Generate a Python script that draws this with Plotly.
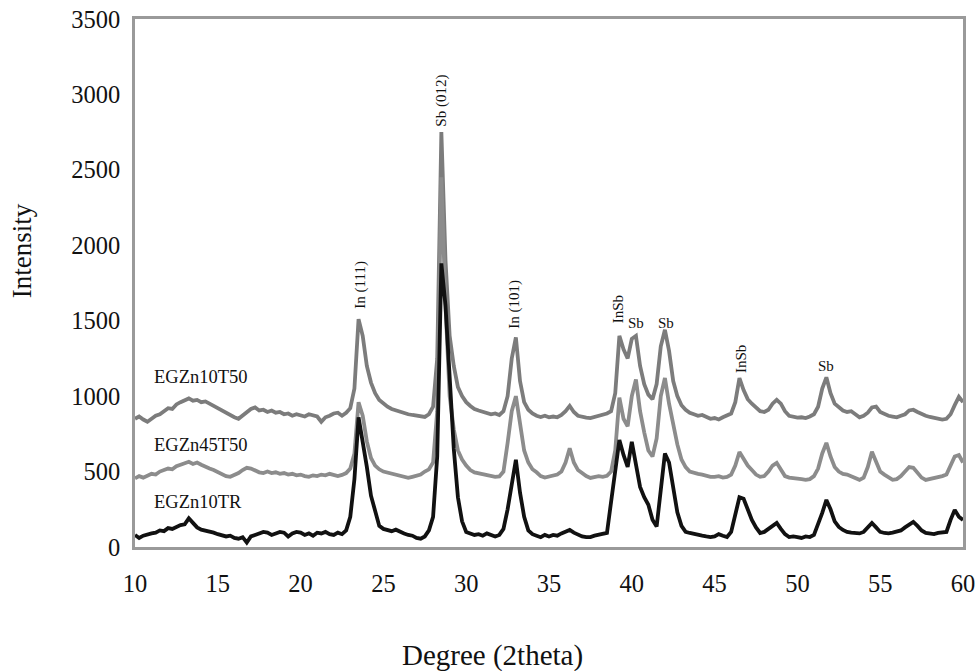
import numpy as np
import plotly.graph_objects as go

# 2-theta sampling grid (degrees)
two_theta = np.round(np.arange(10.0, 60.001, 0.25), 2)

# EGZn10T50 (top trace)
egzn10t50 = [
    850, 865, 845, 830, 850, 870, 880, 900, 920, 915, 945, 960, 975, 985, 970, 975, 960, 965, 950, 935,
    915, 900, 890, 875, 860, 850, 870, 895, 915, 925, 905, 910, 895, 905, 890, 895, 880, 885, 870, 880,
    875, 865, 880, 870, 865, 830, 860, 870, 885, 890, 870, 890, 920, 1050, 1510, 1400, 1200, 1090, 1020, 975,
    950, 930, 915, 905, 895, 890, 880, 875, 870, 868, 862, 880, 930, 1250, 2750, 1900, 1400, 1200, 1060, 1000,
    960, 935, 915, 905, 895, 890, 880, 885, 875, 900, 1000, 1250, 1390, 1100, 960, 910, 885, 870, 862, 870,
    860, 865, 860, 875, 900, 935, 895, 870, 862, 858, 855, 862, 870, 880, 885, 900, 1020, 1400, 1310, 1250,
    1380, 1400, 1200, 1080, 1010, 980, 1080, 1330, 1440, 1300, 1100, 1000, 940, 910, 890, 880, 870, 875, 860, 850,
    855, 845, 860, 870, 885, 960, 1120, 1040, 980, 950, 925, 900, 895, 910, 950, 975, 950, 900, 870, 862,
    858, 860, 855, 865, 880, 930, 1050, 1125, 1020, 950, 925, 905, 895, 900, 880, 860, 870, 890, 925, 930,
    895, 880, 870, 865, 860, 870, 880, 905, 910, 895, 880, 870, 862, 858, 850, 845, 850, 880, 940, 995,
    960,
]

# EGZn45T50 (middle trace)
egzn45t50 = [
    455, 470, 460, 475, 485, 480, 500, 510, 520, 515, 535, 545, 555, 565, 550, 560, 545, 530, 520, 510,
    495, 480, 470, 465, 475, 490, 510, 525, 520, 505, 495, 490, 500, 490, 495, 485, 490, 480, 485, 475,
    480, 470, 465, 475, 470, 480, 475, 485, 480, 470, 478, 490, 520, 620, 960, 870, 700, 590, 540, 515,
    500, 492, 488, 480, 470, 462, 458, 465, 470, 480, 500, 515, 560, 900, 2450, 1600, 1000, 780, 640, 580,
    540, 510, 495, 490, 480, 475, 470, 465, 468, 500, 690, 900, 1000, 800, 640, 560, 515, 495, 470, 460,
    465, 470, 480, 500, 560, 655, 560, 510, 490, 470, 458, 462, 470, 465, 472, 500, 640, 990, 850, 800,
    1000, 1110, 900, 760, 640, 600, 720, 1000, 1120, 950, 800, 680, 580, 530, 500, 490, 485, 480, 470, 465,
    465, 470, 460, 465, 480, 540, 630, 580, 540, 510, 480, 465, 470, 500, 540, 558, 510, 470, 460, 458,
    455, 450, 445, 450, 470, 520, 620, 690, 600, 530, 500, 485, 480, 470, 455, 445, 460, 530, 631, 560,
    500, 480, 460, 445, 450, 470, 500, 530, 525, 490, 460, 445, 450, 460, 465, 470, 480, 540, 600, 610,
    560,
]

# EGZn10TR (bottom trace)
egzn10tr = [
    80, 60, 75, 85, 90, 95, 110, 105, 125, 120, 135, 145, 150, 190, 160, 130, 115, 110, 100, 95,
    85, 80, 70, 75, 60, 55, 65, 30, 70, 80, 90, 100, 95, 80, 90, 100, 95, 70, 90, 100,
    95, 80, 90, 75, 95, 90, 100, 85, 80, 95, 85, 110, 200, 450, 860, 700, 531, 340, 230, 140,
    120, 110, 105, 115, 100, 90, 80, 75, 60, 55, 70, 110, 200, 600, 1880, 1600, 1129, 650, 330, 170,
    100, 90, 80, 85, 75, 90, 80, 70, 80, 120, 250, 420, 578, 360, 200, 110, 85, 75, 65, 80,
    70, 80, 75, 90, 100, 113, 95, 80, 70, 65, 66, 75, 80, 85, 93, 300, 531, 710, 610, 531,
    697, 560, 398, 330, 280, 180, 135, 378, 620, 560, 398, 230, 140, 100, 93, 85, 80, 75, 70, 66,
    70, 85, 75, 66, 100, 226, 330, 320, 250, 180, 130, 93, 100, 120, 140, 160, 120, 85, 66, 70,
    66, 60, 70, 66, 80, 150, 226, 312, 250, 170, 133, 113, 100, 95, 93, 90, 100, 130, 159, 130,
    100, 93, 90, 95, 100, 110, 130, 150, 166, 140, 110, 93, 90, 85, 93, 95, 100, 180, 246, 200,
    179,
]

series_names = ["EGZn10T50", "EGZn45T50", "EGZn10TR"]
series_colors = ["#7c7c7c", "#8c8c8c", "#111111"]
label_y = [1129, 677, 299]

peak_labels = ["In (111)", "Sb (012)", "In (101)", "InSb", "Sb", "Sb", "InSb", "Sb"]
peak_x = [23.6, 28.5, 32.9, 39.15, 40.25, 42.05, 46.55, 51.75]
peak_y = [1740, 2961, 1607, 1574, 1487, 1487, 1248, 1202]
peak_rot = [-90, -90, -90, -90, 0, 0, -90, 0]

x_ticks = [10, 15, 20, 25, 30, 35, 40, 45, 50, 55, 60]
y_ticks = [0, 500, 1000, 1500, 2000, 2500, 3000, 3500]

FONT = "Liberation Serif, Times New Roman, serif"

fig = go.Figure()
for name, ys, col in zip(series_names, [egzn10t50, egzn45t50, egzn10tr], series_colors):
    fig.add_trace(go.Scatter(x=two_theta, y=ys, mode="lines", name=name,
                             line=dict(color=col, width=3.8), showlegend=False))

for name, ly in zip(series_names, label_y):
    fig.add_annotation(x=11.05, y=ly, text=name, showarrow=False, xanchor="left",
                       yanchor="middle", font=dict(family=FONT, size=18.5, color="#111"))

for t, px, py, rot in zip(peak_labels, peak_x, peak_y, peak_rot):
    fig.add_annotation(x=px, y=py, text=t, showarrow=False, textangle=rot,
                       xanchor="center", yanchor="middle",
                       font=dict(family=FONT, size=15, color="#111"))

# axis titles placed as annotations (offset like the original)
fig.add_annotation(xref="paper", x=0, xshift=-113, y=1960, text="Intensity",
                   showarrow=False, textangle=-90, xanchor="center", yanchor="middle",
                   font=dict(family=FONT, size=27, color="#111"))
fig.add_annotation(x=31.6, yref="paper", y=0, yshift=-108, text="Degree (2theta)",
                   showarrow=False, xanchor="center", yanchor="middle",
                   font=dict(family=FONT, size=29, color="#111"))

fig.update_layout(
    width=977, height=671,
    margin=dict(l=135, r=14, t=19, b=124),
    paper_bgcolor="white", plot_bgcolor="white",
    font=dict(family=FONT, color="#111"),
)
fig.update_xaxes(
    range=[10, 60], tickvals=x_ticks, ticktext=[str(v) for v in x_ticks],
    showgrid=False, zeroline=False, showline=True, linecolor="#9a9a9a", linewidth=2.5,
    mirror=True, ticks="outside", ticklen=13, tickcolor="rgba(0,0,0,0)", automargin=False,
    tickfont=dict(family=FONT, size=24.5, color="#111"),
)
fig.update_yaxes(
    range=[0, 3500], tickvals=y_ticks, ticktext=[str(v) for v in y_ticks],
    showgrid=False, zeroline=False, showline=True, linecolor="#9a9a9a", linewidth=2.5,
    mirror=True, ticks="outside", ticklen=7, tickcolor="rgba(0,0,0,0)", automargin=False,
    tickfont=dict(family=FONT, size=24.5, color="#111"),
)

fig.write_html("out.html", config={"displayModeBar": False},
               post_script="document.body.style.margin='0';document.body.style.padding='0';")
